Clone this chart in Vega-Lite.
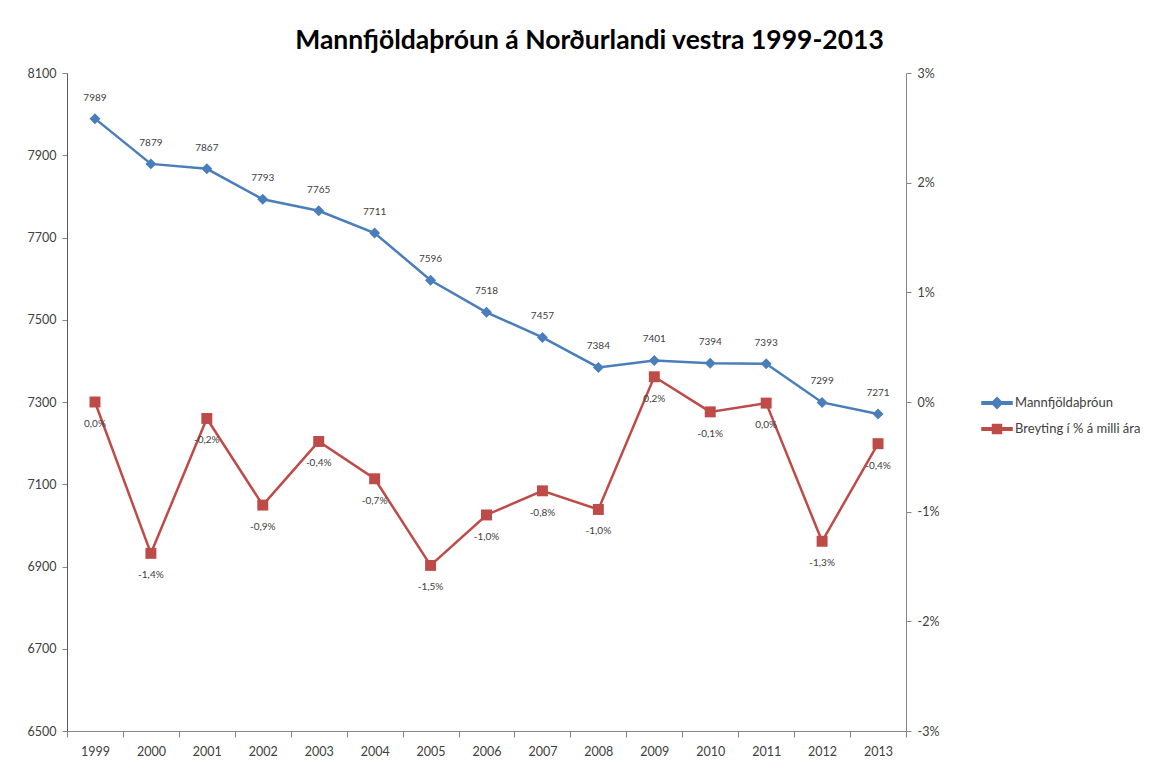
{
  "$schema": "https://vega.github.io/schema/vega-lite/v6.json",
  "width": 839,
  "height": 658,
  "autosize": "none",
  "padding": {"left": 67, "top": 73, "right": 265, "bottom": 36},
  "background": "white",
  "config": {
    "font": "Lato",
    "view": {"stroke": null},
    "axis": {"grid": false, "domainColor": "#868686", "tickColor": "#868686", "labelColor": "#404040", "labelFont": "Lato", "labelFontSize": 12, "tickSize": 5, "domainWidth": 1}
  },
  "title": {"text": "Mannfjöldaþróun á Norðurlandi vestra 1999-2013", "font": "Lato", "fontSize": 26.5, "fontWeight": "bold", "color": "#000000", "anchor": "middle", "frame": "group", "dx": 103, "offset": 13},
  "data": {"values": [
    {"year": "1999", "pop": 7989, "change": 0.0, "label": "0,0%"},
    {"year": "2000", "pop": 7879, "change": -0.0138, "label": "-1,4%"},
    {"year": "2001", "pop": 7867, "change": -0.0015, "label": "-0,2%"},
    {"year": "2002", "pop": 7793, "change": -0.0094, "label": "-0,9%"},
    {"year": "2003", "pop": 7765, "change": -0.0036, "label": "-0,4%"},
    {"year": "2004", "pop": 7711, "change": -0.0070, "label": "-0,7%"},
    {"year": "2005", "pop": 7596, "change": -0.0149, "label": "-1,5%"},
    {"year": "2006", "pop": 7518, "change": -0.0103, "label": "-1,0%"},
    {"year": "2007", "pop": 7457, "change": -0.0081, "label": "-0,8%"},
    {"year": "2008", "pop": 7384, "change": -0.0098, "label": "-1,0%"},
    {"year": "2009", "pop": 7401, "change": 0.0023, "label": "0,2%"},
    {"year": "2010", "pop": 7394, "change": -0.0009, "label": "-0,1%"},
    {"year": "2011", "pop": 7393, "change": -0.0001, "label": "0,0%"},
    {"year": "2012", "pop": 7299, "change": -0.0127, "label": "-1,3%"},
    {"year": "2013", "pop": 7271, "change": -0.0038, "label": "-0,4%"}
  ]},
  "encoding": {
    "x": {"field": "year", "type": "ordinal", "scale": {"type": "band", "paddingInner": 0, "paddingOuter": 0},
      "axis": {"title": null, "labelAngle": 0, "tickBand": "extent", "tickSize": 6, "labelPadding": 8, "labelFontSize": 12.5}}
  },
  "layer": [
    {
      "encoding": {"y": {"field": "pop", "type": "quantitative", "scale": {"domain": [6500, 8100], "nice": false, "zero": false},
        "axis": {"title": null, "orient": "left", "format": "d", "values": [6500, 6700, 6900, 7100, 7300, 7500, 7700, 7900, 8100], "labelPadding": 6, "labelFontSize": 12.5, "domainColor": "#5a5a5a"}}},
      "layer": [
        {"mark": {"type": "line", "strokeWidth": 2.5},
         "encoding": {"color": {"datum": "Mannfjöldaþróun", "type": "nominal",
           "scale": {"domain": ["Mannfjöldaþróun", "Breyting í % á milli ára"], "range": ["#4a7ebb", "#be4b48"]},
           "legend": {"title": null, "orient": "none", "legendX": 914, "legendY": 314, "padding": 0, "labelFontSize": 13, "labelColor": "#404040", "labelFont": "Lato", "symbolSize": 900, "rowPadding": 1, "labelOffset": 2,
             "encode": {"symbols": {"update": {
               "shape": {"signal": "datum.value == 'Mannfjöldaþróun' ? 'M-1,-0.08H1V0.08H-1Z M0,-0.36L0.36,0L0,0.36L-0.36,0Z' : 'M-1,-0.08H1V0.08H-1Z M-0.3,-0.3H0.3V0.3H-0.3Z'"},
               "fill": {"signal": "datum.value == 'Mannfjöldaþróun' ? '#4a7ebb' : '#be4b48'"},
               "stroke": {"value": "transparent"},
               "fillOpacity": {"value": 1}}}}}}}},
        {"mark": {"type": "point", "shape": "diamond", "filled": true, "size": 120, "color": "#4a7ebb", "opacity": 1}},
        {"mark": {"type": "text", "dy": -21, "fontSize": 10, "color": "#404040", "font": "Lato"},
         "encoding": {"text": {"field": "pop", "type": "quantitative", "format": "d"}}}
      ]
    },
    {
      "encoding": {"y": {"field": "change", "type": "quantitative", "scale": {"domain": [-0.03, 0.03], "nice": false, "zero": false},
        "axis": {"title": null, "orient": "right", "values": [-0.03, -0.02, -0.01, 0, 0.01, 0.02, 0.03], "format": ".0%", "labelExpr": "replace(datum.label, '−', '-')", "labelPadding": 6, "labelFontSize": 12.5}}},
      "layer": [
        {"mark": {"type": "line", "strokeWidth": 2.5},
         "encoding": {"color": {"datum": "Breyting í % á milli ára", "type": "nominal"}}},
        {"mark": {"type": "point", "shape": "square", "filled": true, "size": 120, "color": "#be4b48", "opacity": 1}},
        {"mark": {"type": "text", "dy": 22, "fontSize": 10, "color": "#404040", "font": "Lato"},
         "encoding": {"text": {"field": "label", "type": "nominal"}}}
      ]
    }
  ],
  "resolve": {"scale": {"y": "independent"}}
}
